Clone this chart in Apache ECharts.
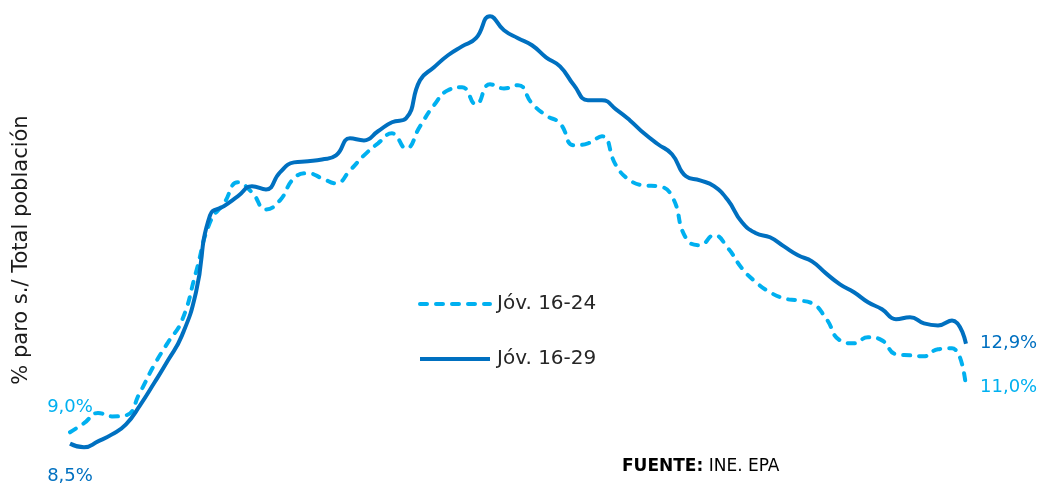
<!DOCTYPE html>
<html>
<head>
<meta charset="utf-8">
<script src="https://cdn.jsdelivr.net/npm/echarts@6/dist/echarts.min.js"></script>
<style>
  html, body { margin: 0; padding: 0; background: #fff; }
  #chart { width: 1037px; height: 490px; }
</style>
</head>
<body>
<div id="chart"></div>
<script>
// quarterly points, % unemployed over total population
const periods = Array.from({ length: 65 }, (_, i) => "T" + (i + 1));

const joven1624 = [
  9.0, 9.4, 9.85, 9.7, 9.75, 10.76, 11.95, 12.96, 13.93, 16.05,
  18.25, 19.09, 20.01, 19.57, 18.82, 19.22, 20.19, 20.41, 20.19, 19.97,
  20.54, 21.2, 21.73, 22.17, 21.51, 22.48, 23.41, 24.07, 24.2, 23.45,
  24.33, 24.15, 24.29, 23.49, 22.96, 22.61, 21.64, 21.73, 22.04, 20.76,
  20.1, 19.88, 19.84, 19.4, 17.55, 17.24, 17.68, 17.11, 16.22, 15.61,
  15.17, 14.9, 14.81, 14.68, 14.02, 13.05, 12.92, 13.19, 13.05, 12.44,
  12.39, 12.35, 12.66, 12.7, 11.0
];

const joven1629 = [
  8.5, 8.34, 8.6, 8.91, 9.35, 10.19, 11.16, 12.17, 13.27, 15.17,
  18.56, 18.96, 19.4, 19.84, 19.7, 20.45, 20.89, 20.94, 21.02, 21.2,
  21.95, 21.86, 22.26, 22.66, 22.83, 24.51, 25.08, 25.61, 26.0, 26.36,
  27.33, 26.71, 26.36, 26.05, 25.52, 25.12, 24.29, 23.63, 23.63, 23.23,
  22.74, 22.17, 21.69, 21.25, 20.28, 20.1, 19.84, 19.22, 18.25, 17.77,
  17.59, 17.19, 16.8, 16.53, 16.0, 15.52, 15.17, 14.73, 14.42, 13.98,
  14.07, 13.8, 13.71, 13.93, 12.9
];

const fmt = v => v.toFixed(1).replace(".", ",") + "%";

// only first and last values get a label
function withEndLabels(values, color, firstPos, firstDist) {
  const lbl = (pos, dist) => ({
    show: true, position: pos, distance: dist, color: color,
    fontSize: 18, fontFamily: "DejaVu Sans", formatter: p => fmt(p.value)
  });
  return values.map((v, i) => {
    if (i === 0) return { value: v, label: lbl(firstPos, firstDist) };
    if (i === values.length - 1) return { value: v, label: lbl("right", 13) };
    return v;
  });
}

const chart = echarts.init(document.getElementById("chart"));

const option = {
  backgroundColor: "#ffffff",
  animation: false,
  textStyle: { fontFamily: "DejaVu Sans" },
  grid: { left: 70, right: 71, top: 1, bottom: 35 },
  legend: {
    orient: "vertical",
    left: 413,
    top: 289,
    itemWidth: 70,
    itemHeight: 14,
    itemGap: 35,
    lineStyle: { width: 4 },
    textStyle: { fontSize: 20, color: "#262626", fontFamily: "DejaVu Sans", padding: [0, 0, 0, 2] },
    data: ["Jóv. 16-24", "Jóv. 16-29"]
  },
  xAxis: {
    type: "category",
    boundaryGap: false,
    data: periods,
    show: false
  },
  yAxis: {
    type: "value",
    min: 8,
    max: 28,
    show: false
  },
  series: [
    {
      name: "Jóv. 16-24",
      type: "line",
      smooth: 0.5,
      symbol: "circle",
      symbolSize: 2,
      showSymbol: true,
      itemStyle: { color: "rgba(0,0,0,0)" },
      lineStyle: { width: 4, color: "#00B0F0", type: [7, 9], cap: "round" },
      data: withEndLabels(joven1624, "#00B0F0", "top", 15)
    },
    {
      name: "Jóv. 16-29",
      type: "line",
      smooth: 0.5,
      symbol: "circle",
      symbolSize: 2,
      showSymbol: true,
      itemStyle: { color: "rgba(0,0,0,0)" },
      lineStyle: { width: 4, color: "#0070C0" },
      data: withEndLabels(joven1629, "#0070C0", "bottom", 23)
    }
  ],
  graphic: [
    {
      type: "text",
      x: 22,
      y: 250,
      rotation: Math.PI / 2,
      style: {
        text: "% paro s./ Total población",
        fontSize: 21,
        fontFamily: "DejaVu Sans",
        fill: "#1a1a1a",
        align: "center",
        verticalAlign: "middle"
      }
    },
    {
      type: "text",
      left: 622,
      top: 458,
      style: {
        text: "{b|FUENTE:} INE. EPA",
        fontSize: 17,
        fontFamily: "DejaVu Sans",
        fill: "#000",
        rich: { b: { fontWeight: "bold", fontSize: 17, fontFamily: "DejaVu Sans", fill: "#000" } }
      }
    }
  ]
};

chart.setOption(option);
</script>
</body>
</html>
